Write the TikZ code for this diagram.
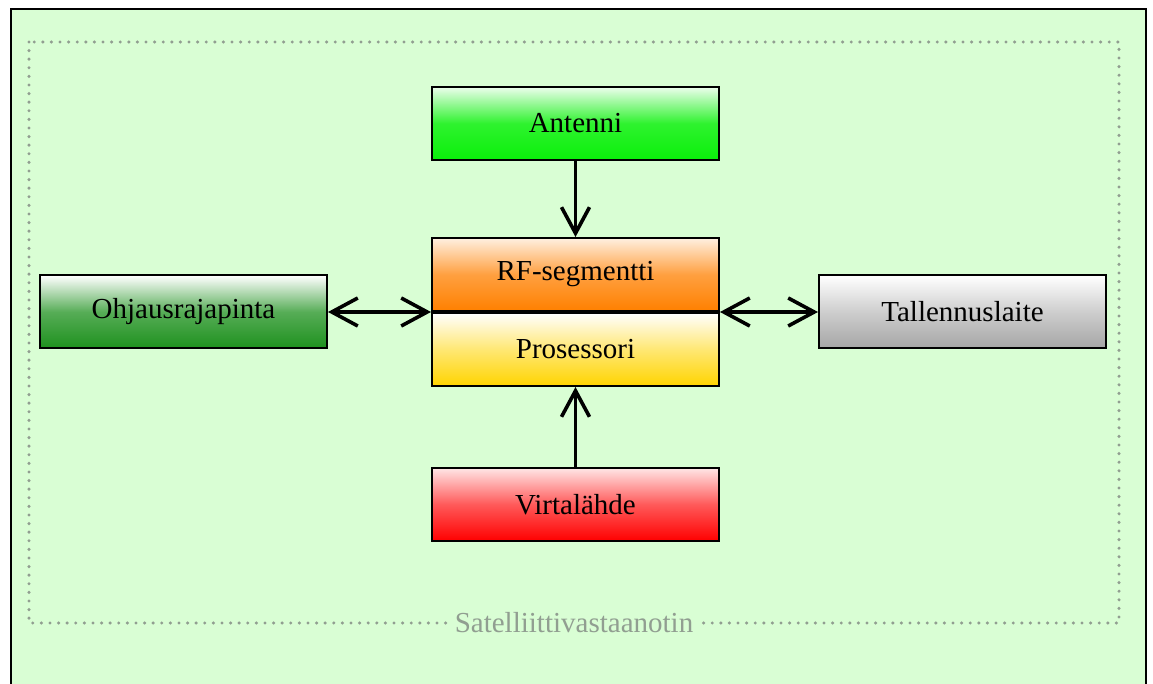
\documentclass[tikz,border=0pt]{standalone}
\usepackage{fontspec}
\setmainfont{Liberation Serif}
\usetikzlibrary{positioning,arrows.meta}

\definecolor{bggreen}{RGB}{217,254,212}
\definecolor{framegray}{RGB}{145,158,145}
\definecolor{antgreen}{RGB}{10,240,10}
\definecolor{ctrlgreen}{RGB}{30,145,30}
\definecolor{rforange}{RGB}{255,128,0}
\definecolor{cpuyellow}{RGB}{255,212,0}
\definecolor{storegray}{RGB}{165,165,165}
\definecolor{powerred}{RGB}{255,0,0}

\begin{document}
\begin{tikzpicture}[x=0.5pt,y=-0.5pt,
    block/.style={draw=black, line width=1pt, minimum width=143.5pt,
      minimum height=36.5pt, inner sep=0pt, font=\fontsize{14.5}{17}\selectfont},
    link/.style={line width=1.8pt, -{Straight Barb[length=13pt,width=14pt]}},
    twoway/.style={line width=1.8pt,
      {Straight Barb[length=13pt,width=14pt]}-{Straight Barb[length=13pt,width=14pt]}}
  ]
  \clip (0,0) rectangle (1153,684);
  % outer frame
  \draw[line width=1pt, fill=bggreen] (11,9) rectangle (1146,720);
  \draw[framegray, line width=1.7pt, line cap=round, dash pattern=on 0pt off 4.3pt]
    (29,42) rectangle (1119,623);
  \node[fill=bggreen, text=framegray, inner sep=3pt, font=\fontsize{14.5}{17}\selectfont]
    (sat) at (574,623) {Satelliittivastaanotin};

  % blocks
  \node[block, top color=rforange!12, bottom color=rforange, middle color=rforange!75]
    (rf) at (575.5,274.5) {RF-segmentti};
  \node[block, below=0pt of rf, top color=white, bottom color=cpuyellow, middle color=cpuyellow!55]
    (cpu) {Prosessori};
  \node[block, above=38pt of rf, top color=antgreen!8, bottom color=antgreen, middle color=antgreen!85]
    (ant) {Antenni};
  \node[block, below=40pt of cpu, top color=powerred!10, bottom color=powerred, middle color=powerred!65]
    (power) {Virtalähde};
  \node[block, left=51.5pt of rf.south west, top color=white, bottom color=ctrlgreen, middle color=ctrlgreen!75]
    (ctrl) {Ohjausrajapinta};
  \node[block, right=49pt of rf.south east, top color=white, bottom color=storegray, middle color=storegray!55]
    (store) {Tallennuslaite};

  % connectors
  \draw[link] (ant) -- (rf);
  \draw[link] (power) -- (cpu);
  \draw[twoway] (ctrl) -- (rf.south west);
  \draw[twoway] (store) -- (rf.south east);
\end{tikzpicture}
\end{document}
